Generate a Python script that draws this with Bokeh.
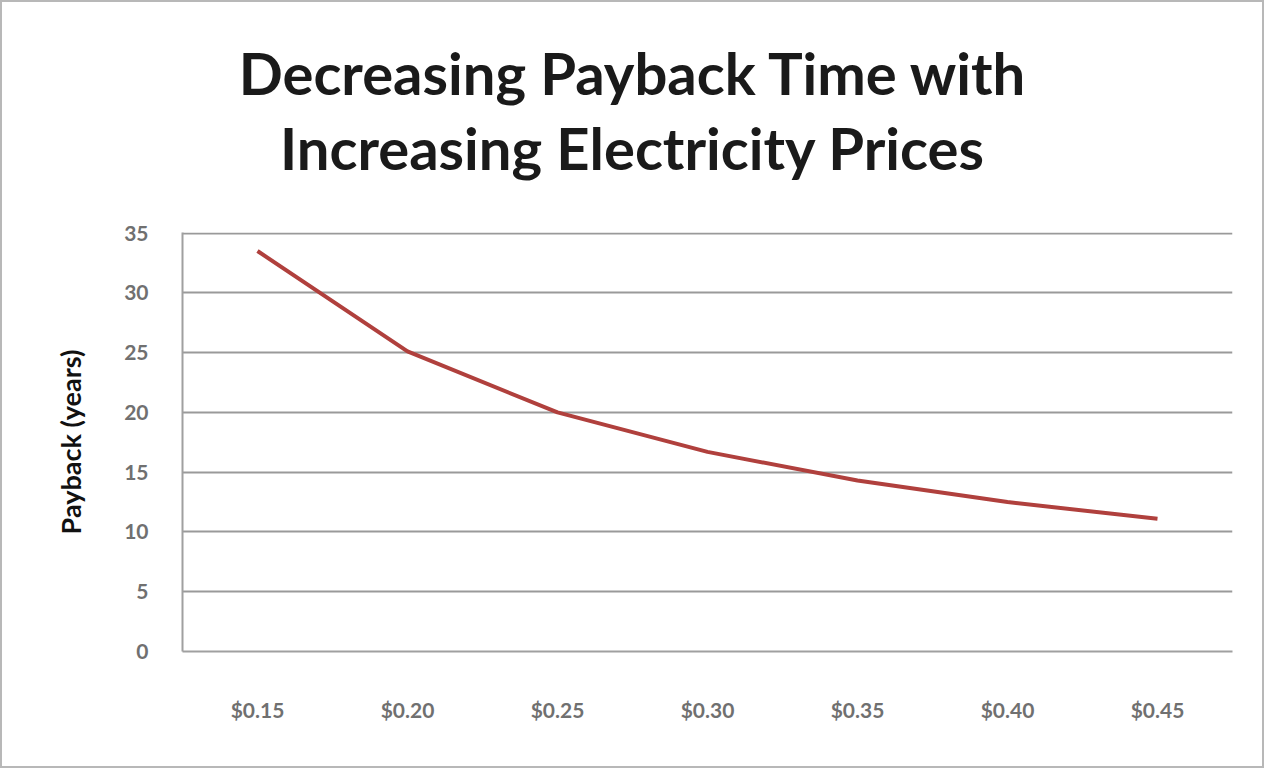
from bokeh.plotting import figure
from bokeh.models import FactorRange, Range1d, FixedTicker, Div
from bokeh.layouts import column
from bokeh.embed import file_html
from bokeh.resources import INLINE

prices = ["$0.15", "$0.20", "$0.25", "$0.30", "$0.35", "$0.40", "$0.45"]
payback = [33.5, 25.1, 20.0, 16.7, 14.3, 12.5, 11.1]
y_ticks = [0, 5, 10, 15, 20, 25, 30, 35]
title_lines = ["Decreasing Payback Time with", "Increasing Electricity Prices"]

FONT = "Lato"
Y_MAX = 35.05

title_div = Div(
    text="<div style=\"font-family:'Lato';font-weight:bold;font-size:58px;"
         "line-height:75px;text-align:center;color:#1a1a1a;padding-top:33px;"
         "width:1260px;\">" + "<br>".join(title_lines) + "</div>",
    width=1260, height=200, margin=0,
)

p = figure(
    width=1260, height=564,
    x_range=FactorRange(*prices, range_padding=0),
    y_range=Range1d(0, Y_MAX),
    output_backend="svg", toolbar_location=None,
    min_border_left=180, min_border_right=30,
    min_border_top=30, min_border_bottom=115,
    margin=0,
)
p.title.text = ""

p.line(prices, payback, line_color="#b0403d", line_width=4)

p.outline_line_color = None
p.xgrid.grid_line_color = None
p.ygrid.grid_line_color = "#9a9a9a"
p.ygrid.grid_line_width = 2
p.yaxis.ticker = FixedTicker(ticks=y_ticks)

for ax in (p.xaxis[0], p.yaxis[0]):
    ax.axis_line_color = "#a0a0a0"
    ax.axis_line_width = 2
    ax.major_tick_line_color = None
    ax.minor_tick_line_color = None
    ax.major_label_text_font = FONT
    ax.major_label_text_font_size = "21px"
    ax.major_label_text_font_style = "bold"
    ax.major_label_text_color = "#707070"

p.xaxis.major_label_standoff = 39
p.yaxis.major_label_standoff = 28
p.yaxis.axis_label = "Payback (years)"
p.yaxis.axis_label_text_font = FONT
p.yaxis.axis_label_text_font_size = "27px"
p.yaxis.axis_label_text_font_style = "bold"
p.yaxis.axis_label_text_color = "#111111"
p.yaxis.axis_label_standoff = 34

layout = column(title_div, p, spacing=0)
layout.styles = {"border": "2px solid #b8b8b8", "background-color": "white"}

open("out.html", "w").write(file_html(layout, INLINE))
